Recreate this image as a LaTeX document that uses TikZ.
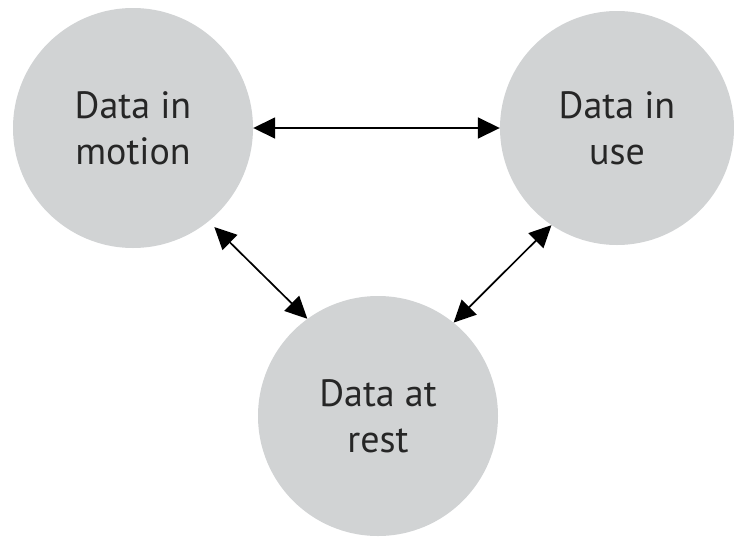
\documentclass[tikz,border=0pt]{standalone}
\usepackage{fontspec}
\setmainfont{PT Sans}
\usetikzlibrary{arrows.meta}
\definecolor{circfill}{HTML}{D1D3D4}
\definecolor{txtcol}{HTML}{262626}
\begin{document}
\begin{tikzpicture}[x=1pt,y=-1pt,
  state/.style={circle, fill=circfill, minimum size=240pt, inner sep=0pt,
    font=\fontsize{38}{46}\selectfont, text=txtcol, align=center},
  link/.style={{Triangle[length=22pt,width=21pt]}-{Triangle[length=22pt,width=21pt]}, line width=1.7pt, black}]
\useasboundingbox (0,0) rectangle (734,536);
\node[state] (m) at (133,128) {Data in\\motion};
\node[state, minimum size=234pt] (u) at (617,128) {Data in\\use};
\node[state] (r) at (378,416) {Data at\\rest};
\draw[link] (m) -- (u);
\draw[link, shorten <=8pt] (m.-51) -- (r.126);
\draw[link] (u.-124.5) -- (r.51.5);
\end{tikzpicture}
\end{document}
